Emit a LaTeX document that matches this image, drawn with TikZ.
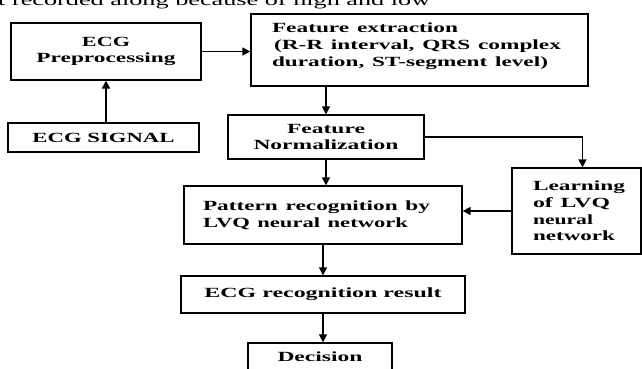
\documentclass[tikz,border=0pt]{standalone}
\usepackage{fontspec}
\usepackage{graphicx}
\setmainfont{Liberation Serif}
\usetikzlibrary{arrows.meta}
\newcommand{\fitw}[2]{\resizebox{#1pt}{\height}{#2}}
\newcommand{\liftup}[2]{\raisebox{0pt}[\height][\dimexpr\depth+#1\relax]{#2}}
\begin{document}
\begin{tikzpicture}[x=1pt,y=-1pt,
  box/.style={draw, line width=1.3pt, inner sep=0pt, align=center,
    font=\fontsize{14}{16.7}\selectfont\bfseries},
  lbox/.style={box, align=left},
  arr/.style={line width=1.5pt, -{Triangle[length=8pt,width=8pt]}}]
\useasboundingbox (0,0) rectangle (642,369);
\clip (0,0) rectangle (642,369);
\node (top) [anchor=base west, inner sep=0pt, font=\fontsize{16}{18}\selectfont] at (-2,5.5) {\fitw{432}{t recorded along because of high and low}};
\node (pre) [box, minimum width=190pt, minimum height=57pt] at (106,51.5) {\fitw{48}{ECG}\\\fitw{139}{Preprocessing}};
\node (sig) [box, minimum width=191pt, minimum height=29pt] at (103.5,137.5) {\fitw{142}{ECG SIGNAL}};
\node (fe) [lbox, text width=295pt, minimum width=337pt, minimum height=72pt] at (419.5,50)
  {\liftup{8pt}{\begin{tabular}{@{}l@{}}\fitw{186}{Feature extraction}\\\hspace{2pt}\fitw{287}{(R-R interval, QRS complex}\\\fitw{276}{duration, ST-segment level)}\end{tabular}}};
\node (norm) [box, minimum width=196pt, minimum height=44pt] at (326,137) {\fitw{78}{Feature}\\\fitw{145}{Normalization}};
\node (pat) [lbox, text width=240pt, minimum width=278pt, minimum height=58pt] at (323,215) {\fitw{227}{Pattern recognition by}\\\fitw{205}{LVQ neural network}};
\node (learn) [lbox, text width=87pt, minimum width=129pt, minimum height=86pt] at (576.5,211) {\fitw{92}{Learning}\\\fitw{77}{of LVQ}\\\fitw{60}{neural}\\\fitw{82}{network}};
\node (res) [box, minimum width=284pt, minimum height=37pt] at (323,294.5) {\fitw{237}{ECG recognition result}};
\node (dec) [box, minimum width=144pt, minimum height=28pt] at (320,357) {\fitw{85}{Decision}};
\draw[arr, line width=2.5pt] (pre.south |- sig.north) -- (pre.south);
\draw[arr] (pre.east) -- (pre.east -| fe.west);
\draw[arr] (norm.north |- fe.south) -- (norm.north);
\draw[arr] (norm.east) -| ([xshift=6pt]learn.north);
\draw[arr] (learn.west) -- (learn.west -| pat.east);
\draw[arr] (norm.south) -- (norm.south |- pat.north);
\draw[arr] (pat.south) -- (res.north);
\draw[arr] (res.south) -- (res.south |- dec.north);
\end{tikzpicture}
\end{document}
